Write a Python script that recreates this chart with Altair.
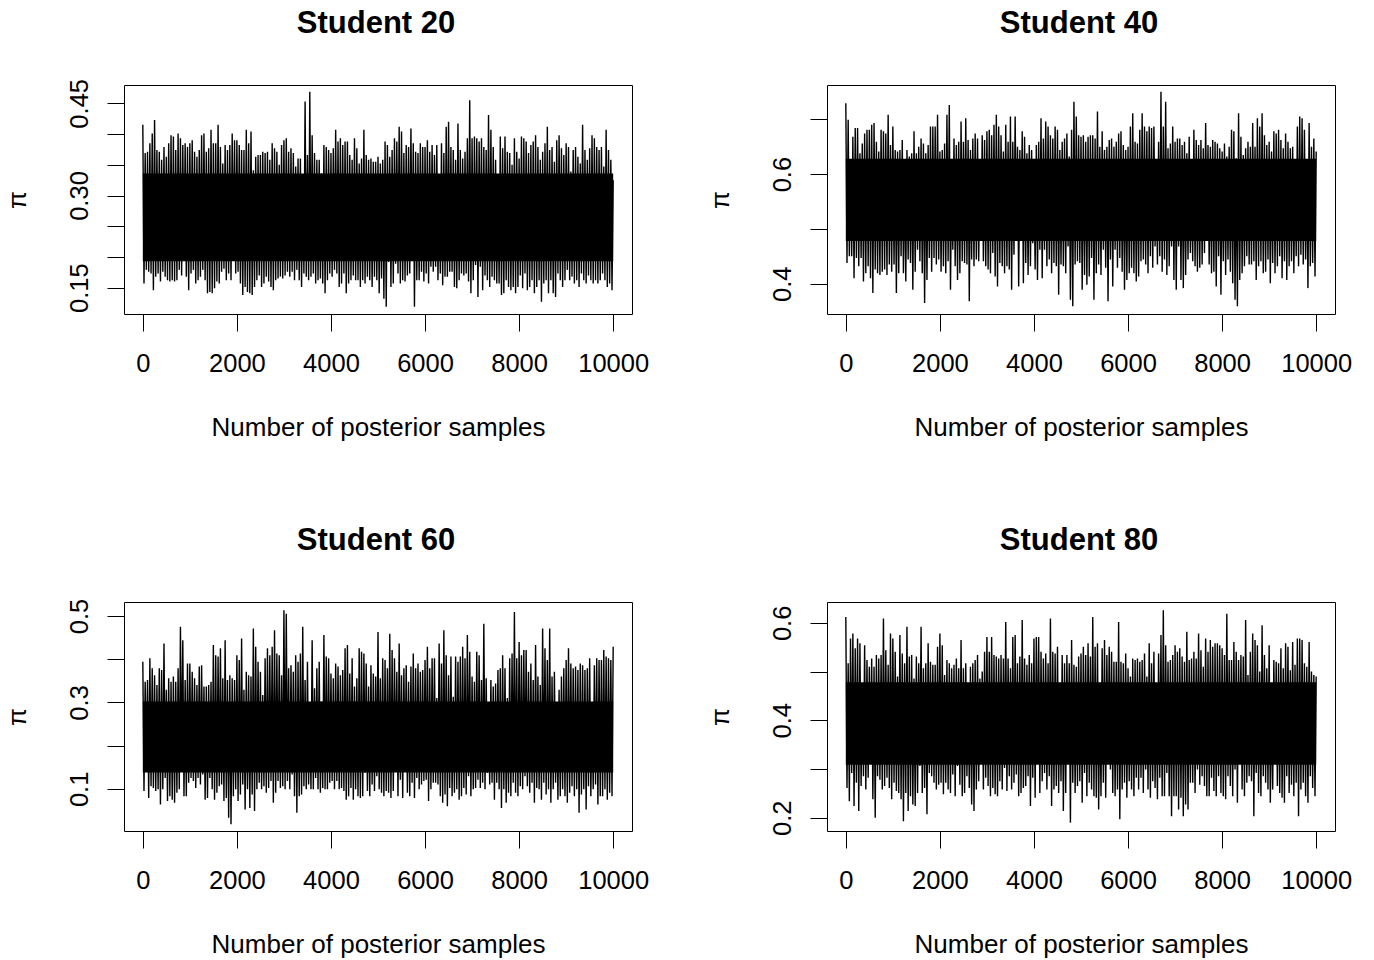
import altair as alt
import pandas as pd

# ---- data -------------------------------------------------------------
TITLES = ["Student 20", "Student 40", "Student 60", "Student 80"]

# Trace extremes for each block of 50 posterior draws:
# upper peaks at draws 0, 50, ..., 10000 and lower troughs at 25, 75, ..., 9975.
s20_hi = [0.415, 0.369, 0.371, 0.385, 0.401, 0.423, 0.374, 0.371, 0.358, 0.379,
          0.363, 0.385, 0.398, 0.396, 0.374, 0.401, 0.393, 0.382, 0.385, 0.379,
          0.385, 0.390, 0.371, 0.363, 0.374, 0.398, 0.401, 0.371, 0.377, 0.407,
          0.385, 0.385, 0.415, 0.379, 0.352, 0.382, 0.374, 0.382, 0.401, 0.390,
          0.390, 0.382, 0.374, 0.374, 0.407, 0.385, 0.404, 0.341, 0.363, 0.366,
          0.366, 0.371, 0.369, 0.371, 0.358, 0.385, 0.377, 0.371, 0.350, 0.382,
          0.390, 0.393, 0.371, 0.377, 0.369, 0.347, 0.360, 0.360, 0.333, 0.453,
          0.366, 0.469, 0.398, 0.369, 0.358, 0.358, 0.336, 0.382, 0.379, 0.374,
          0.369, 0.377, 0.407, 0.388, 0.393, 0.382, 0.388, 0.388, 0.366, 0.358,
          0.393, 0.377, 0.352, 0.360, 0.407, 0.366, 0.358, 0.360, 0.355, 0.355,
          0.363, 0.352, 0.358, 0.388, 0.382, 0.363, 0.374, 0.393, 0.388, 0.412,
          0.404, 0.369, 0.382, 0.379, 0.409, 0.385, 0.371, 0.369, 0.385, 0.379,
          0.379, 0.390, 0.371, 0.382, 0.366, 0.382, 0.309, 0.385, 0.369, 0.412,
          0.420, 0.379, 0.374, 0.358, 0.417, 0.374, 0.360, 0.371, 0.393, 0.455,
          0.393, 0.396, 0.393, 0.388, 0.393, 0.379, 0.374, 0.431, 0.407, 0.379,
          0.358, 0.320, 0.396, 0.377, 0.396, 0.371, 0.369, 0.350, 0.393, 0.371,
          0.360, 0.396, 0.393, 0.388, 0.369, 0.382, 0.388, 0.398, 0.379, 0.358,
          0.371, 0.385, 0.412, 0.374, 0.379, 0.355, 0.390, 0.398, 0.377, 0.366,
          0.385, 0.379, 0.339, 0.374, 0.379, 0.363, 0.352, 0.415, 0.374, 0.358,
          0.377, 0.398, 0.393, 0.379, 0.374, 0.379, 0.347, 0.407, 0.374, 0.358,
          0.325]
s20_lo = [0.157, 0.179, 0.176, 0.173, 0.146, 0.168, 0.173, 0.160, 0.176, 0.168,
          0.162, 0.160, 0.162, 0.160, 0.162, 0.179, 0.170, 0.195, 0.168, 0.146,
          0.173, 0.179, 0.157, 0.162, 0.168, 0.179, 0.162, 0.141, 0.143, 0.141,
          0.149, 0.160, 0.157, 0.176, 0.181, 0.162, 0.173, 0.162, 0.195, 0.173,
          0.176, 0.157, 0.138, 0.151, 0.143, 0.141, 0.138, 0.151, 0.162, 0.170,
          0.151, 0.157, 0.168, 0.160, 0.151, 0.146, 0.162, 0.165, 0.168, 0.165,
          0.170, 0.176, 0.168, 0.176, 0.162, 0.179, 0.162, 0.151, 0.173, 0.168,
          0.162, 0.168, 0.173, 0.157, 0.162, 0.165, 0.157, 0.141, 0.162, 0.173,
          0.168, 0.179, 0.173, 0.151, 0.157, 0.173, 0.141, 0.157, 0.162, 0.170,
          0.162, 0.162, 0.151, 0.162, 0.157, 0.168, 0.162, 0.151, 0.168, 0.162,
          0.141, 0.165, 0.132, 0.119, 0.192, 0.151, 0.157, 0.189, 0.173, 0.157,
          0.162, 0.160, 0.170, 0.173, 0.195, 0.119, 0.162, 0.162, 0.176, 0.160,
          0.173, 0.157, 0.184, 0.176, 0.184, 0.162, 0.173, 0.154, 0.168, 0.168,
          0.176, 0.176, 0.151, 0.149, 0.162, 0.173, 0.170, 0.173, 0.160, 0.141,
          0.162, 0.187, 0.135, 0.184, 0.146, 0.170, 0.162, 0.151, 0.168, 0.162,
          0.157, 0.157, 0.138, 0.141, 0.162, 0.151, 0.146, 0.151, 0.141, 0.151,
          0.170, 0.149, 0.173, 0.146, 0.151, 0.162, 0.141, 0.151, 0.162, 0.127,
          0.157, 0.162, 0.141, 0.162, 0.141, 0.135, 0.173, 0.162, 0.151, 0.162,
          0.179, 0.162, 0.168, 0.157, 0.162, 0.151, 0.173, 0.162, 0.157, 0.170,
          0.162, 0.157, 0.162, 0.157, 0.162, 0.173, 0.162, 0.151, 0.157, 0.146]

s40_hi = [0.729, 0.699, 0.623, 0.668, 0.684, 0.684, 0.638, 0.656, 0.674, 0.681,
          0.681, 0.690, 0.693, 0.659, 0.641, 0.681, 0.678, 0.674, 0.708, 0.653,
          0.687, 0.644, 0.641, 0.644, 0.662, 0.614, 0.644, 0.632, 0.638, 0.678,
          0.638, 0.650, 0.665, 0.656, 0.638, 0.653, 0.687, 0.687, 0.687, 0.708,
          0.641, 0.644, 0.656, 0.708, 0.726, 0.592, 0.665, 0.653, 0.659, 0.696,
          0.659, 0.702, 0.662, 0.644, 0.665, 0.674, 0.665, 0.605, 0.671, 0.662,
          0.678, 0.681, 0.671, 0.690, 0.708, 0.687, 0.671, 0.641, 0.690, 0.659,
          0.705, 0.659, 0.705, 0.650, 0.644, 0.678, 0.668, 0.638, 0.653, 0.644,
          0.623, 0.653, 0.659, 0.702, 0.665, 0.696, 0.687, 0.671, 0.665, 0.687,
          0.681, 0.644, 0.659, 0.665, 0.674, 0.632, 0.681, 0.732, 0.705, 0.671,
          0.668, 0.671, 0.659, 0.668, 0.671, 0.671, 0.665, 0.714, 0.650, 0.678,
          0.644, 0.650, 0.662, 0.665, 0.650, 0.659, 0.674, 0.678, 0.653, 0.644,
          0.650, 0.687, 0.711, 0.659, 0.656, 0.681, 0.711, 0.687, 0.678, 0.687,
          0.684, 0.687, 0.620, 0.659, 0.750, 0.687, 0.732, 0.647, 0.656, 0.687,
          0.659, 0.665, 0.665, 0.653, 0.659, 0.638, 0.668, 0.599, 0.681, 0.662,
          0.653, 0.662, 0.647, 0.693, 0.653, 0.650, 0.662, 0.659, 0.656, 0.647,
          0.641, 0.656, 0.632, 0.650, 0.681, 0.678, 0.629, 0.711, 0.668, 0.635,
          0.647, 0.659, 0.650, 0.693, 0.650, 0.702, 0.687, 0.711, 0.671, 0.653,
          0.659, 0.641, 0.678, 0.674, 0.681, 0.662, 0.647, 0.674, 0.659, 0.647,
          0.650, 0.608, 0.687, 0.705, 0.702, 0.681, 0.611, 0.693, 0.650, 0.665,
          0.641]
s40_lo = [0.438, 0.450, 0.450, 0.410, 0.447, 0.432, 0.447, 0.404, 0.419, 0.432,
          0.410, 0.383, 0.426, 0.419, 0.416, 0.422, 0.426, 0.416, 0.435, 0.422,
          0.435, 0.383, 0.419, 0.450, 0.419, 0.404, 0.444, 0.438, 0.389, 0.422,
          0.462, 0.441, 0.419, 0.365, 0.407, 0.447, 0.422, 0.447, 0.435, 0.444,
          0.422, 0.432, 0.419, 0.441, 0.389, 0.462, 0.432, 0.407, 0.419, 0.441,
          0.438, 0.435, 0.368, 0.444, 0.432, 0.444, 0.441, 0.483, 0.441, 0.432,
          0.426, 0.419, 0.456, 0.413, 0.395, 0.438, 0.432, 0.419, 0.432, 0.426,
          0.389, 0.453, 0.486, 0.395, 0.483, 0.401, 0.438, 0.416, 0.432, 0.474,
          0.426, 0.407, 0.462, 0.410, 0.462, 0.432, 0.444, 0.419, 0.438, 0.432,
          0.380, 0.435, 0.432, 0.419, 0.468, 0.371, 0.359, 0.435, 0.441, 0.438,
          0.389, 0.416, 0.398, 0.413, 0.447, 0.371, 0.419, 0.435, 0.416, 0.462,
          0.429, 0.368, 0.444, 0.395, 0.462, 0.429, 0.447, 0.422, 0.389, 0.407,
          0.419, 0.429, 0.419, 0.404, 0.413, 0.441, 0.444, 0.435, 0.419, 0.450,
          0.429, 0.468, 0.435, 0.450, 0.422, 0.444, 0.416, 0.432, 0.468, 0.407,
          0.389, 0.468, 0.407, 0.392, 0.416, 0.444, 0.456, 0.441, 0.432, 0.422,
          0.429, 0.435, 0.456, 0.486, 0.435, 0.419, 0.422, 0.395, 0.450, 0.380,
          0.441, 0.416, 0.444, 0.422, 0.401, 0.371, 0.359, 0.407, 0.419, 0.432,
          0.450, 0.435, 0.435, 0.441, 0.407, 0.432, 0.441, 0.419, 0.422, 0.444,
          0.401, 0.438, 0.419, 0.432, 0.450, 0.410, 0.441, 0.407, 0.432, 0.441,
          0.419, 0.450, 0.432, 0.453, 0.435, 0.444, 0.392, 0.432, 0.438, 0.413]

s60_hi = [0.394, 0.348, 0.352, 0.402, 0.379, 0.363, 0.340, 0.379, 0.375, 0.436,
          0.329, 0.356, 0.348, 0.360, 0.348, 0.379, 0.475, 0.444, 0.352, 0.390,
          0.390, 0.371, 0.356, 0.340, 0.383, 0.386, 0.337, 0.337, 0.340, 0.348,
          0.433, 0.409, 0.406, 0.425, 0.356, 0.444, 0.352, 0.363, 0.356, 0.352,
          0.409, 0.398, 0.448, 0.329, 0.371, 0.363, 0.360, 0.471, 0.429, 0.394,
          0.371, 0.317, 0.402, 0.425, 0.409, 0.429, 0.467, 0.413, 0.409, 0.363,
          0.513, 0.505, 0.379, 0.386, 0.371, 0.409, 0.394, 0.413, 0.475, 0.352,
          0.394, 0.298, 0.444, 0.333, 0.379, 0.394, 0.302, 0.456, 0.406, 0.402,
          0.367, 0.356, 0.390, 0.383, 0.363, 0.375, 0.425, 0.433, 0.367, 0.402,
          0.337, 0.356, 0.425, 0.417, 0.413, 0.390, 0.337, 0.386, 0.367, 0.360,
          0.463, 0.356, 0.402, 0.398, 0.379, 0.459, 0.421, 0.402, 0.371, 0.436,
          0.363, 0.379, 0.386, 0.348, 0.383, 0.413, 0.379, 0.390, 0.371, 0.375,
          0.398, 0.429, 0.379, 0.402, 0.402, 0.310, 0.436, 0.390, 0.467, 0.409,
          0.363, 0.406, 0.313, 0.406, 0.394, 0.406, 0.429, 0.402, 0.456, 0.417,
          0.360, 0.348, 0.417, 0.409, 0.352, 0.482, 0.356, 0.283, 0.352, 0.337,
          0.344, 0.375, 0.379, 0.409, 0.379, 0.310, 0.402, 0.413, 0.509, 0.402,
          0.440, 0.409, 0.421, 0.421, 0.371, 0.390, 0.352, 0.433, 0.360, 0.340,
          0.471, 0.425, 0.398, 0.471, 0.360, 0.371, 0.290, 0.329, 0.360, 0.379,
          0.398, 0.425, 0.390, 0.379, 0.383, 0.375, 0.390, 0.386, 0.375, 0.379,
          0.402, 0.298, 0.386, 0.402, 0.398, 0.398, 0.421, 0.406, 0.402, 0.398,
          0.429]
s60_lo = [0.095, 0.156, 0.079, 0.106, 0.102, 0.095, 0.099, 0.064, 0.099, 0.125,
          0.072, 0.083, 0.075, 0.068, 0.091, 0.099, 0.152, 0.083, 0.083, 0.114,
          0.125, 0.118, 0.102, 0.125, 0.110, 0.133, 0.075, 0.079, 0.125, 0.099,
          0.075, 0.091, 0.106, 0.110, 0.072, 0.079, 0.033, 0.018, 0.083, 0.099,
          0.072, 0.087, 0.110, 0.052, 0.099, 0.056, 0.087, 0.049, 0.099, 0.114,
          0.099, 0.106, 0.091, 0.102, 0.118, 0.068, 0.091, 0.118, 0.102, 0.106,
          0.099, 0.118, 0.099, 0.133, 0.083, 0.045, 0.083, 0.087, 0.106, 0.099,
          0.110, 0.099, 0.099, 0.125, 0.099, 0.091, 0.102, 0.099, 0.099, 0.114,
          0.118, 0.099, 0.118, 0.099, 0.102, 0.095, 0.075, 0.083, 0.102, 0.075,
          0.099, 0.083, 0.079, 0.083, 0.137, 0.095, 0.083, 0.110, 0.095, 0.129,
          0.099, 0.091, 0.083, 0.095, 0.091, 0.079, 0.095, 0.148, 0.083, 0.121,
          0.079, 0.148, 0.091, 0.083, 0.114, 0.079, 0.125, 0.099, 0.110, 0.118,
          0.121, 0.072, 0.099, 0.114, 0.114, 0.110, 0.083, 0.068, 0.087, 0.060,
          0.102, 0.083, 0.091, 0.099, 0.075, 0.083, 0.102, 0.087, 0.129, 0.083,
          0.099, 0.102, 0.121, 0.102, 0.114, 0.099, 0.137, 0.110, 0.114, 0.075,
          0.114, 0.099, 0.056, 0.099, 0.068, 0.091, 0.083, 0.114, 0.091, 0.083,
          0.106, 0.099, 0.129, 0.106, 0.091, 0.114, 0.068, 0.102, 0.099, 0.075,
          0.114, 0.087, 0.099, 0.068, 0.099, 0.114, 0.075, 0.083, 0.099, 0.083,
          0.068, 0.091, 0.106, 0.083, 0.099, 0.045, 0.087, 0.099, 0.052, 0.106,
          0.083, 0.099, 0.110, 0.064, 0.083, 0.083, 0.099, 0.075, 0.091, 0.083]

s80_hi = [0.612, 0.517, 0.568, 0.578, 0.548, 0.568, 0.558, 0.473, 0.554, 0.524,
          0.510, 0.527, 0.510, 0.534, 0.527, 0.534, 0.609, 0.544, 0.514, 0.578,
          0.568, 0.541, 0.490, 0.575, 0.537, 0.517, 0.592, 0.531, 0.534, 0.486,
          0.531, 0.517, 0.592, 0.507, 0.517, 0.558, 0.520, 0.514, 0.514, 0.551,
          0.578, 0.554, 0.493, 0.524, 0.517, 0.507, 0.514, 0.527, 0.507, 0.565,
          0.507, 0.517, 0.476, 0.510, 0.517, 0.524, 0.534, 0.486, 0.500, 0.541,
          0.571, 0.541, 0.571, 0.534, 0.531, 0.527, 0.534, 0.527, 0.602, 0.527,
          0.507, 0.571, 0.575, 0.517, 0.531, 0.606, 0.527, 0.514, 0.534, 0.517,
          0.568, 0.571, 0.571, 0.541, 0.527, 0.537, 0.517, 0.609, 0.541, 0.537,
          0.551, 0.473, 0.534, 0.517, 0.534, 0.517, 0.565, 0.514, 0.510, 0.531,
          0.537, 0.551, 0.534, 0.558, 0.531, 0.612, 0.551, 0.558, 0.462, 0.548,
          0.565, 0.534, 0.551, 0.541, 0.520, 0.520, 0.602, 0.520, 0.517, 0.537,
          0.507, 0.490, 0.527, 0.524, 0.527, 0.520, 0.524, 0.537, 0.490, 0.558,
          0.517, 0.541, 0.473, 0.537, 0.575, 0.626, 0.554, 0.520, 0.524, 0.534,
          0.554, 0.541, 0.548, 0.531, 0.520, 0.582, 0.524, 0.527, 0.541, 0.527,
          0.578, 0.544, 0.510, 0.568, 0.541, 0.565, 0.551, 0.558, 0.558, 0.554,
          0.548, 0.534, 0.619, 0.524, 0.524, 0.561, 0.541, 0.524, 0.534, 0.531,
          0.606, 0.493, 0.541, 0.578, 0.565, 0.554, 0.500, 0.595, 0.534, 0.507,
          0.554, 0.456, 0.524, 0.520, 0.517, 0.548, 0.507, 0.558, 0.551, 0.503,
          0.561, 0.514, 0.568, 0.568, 0.565, 0.517, 0.510, 0.561, 0.500, 0.493,
          0.490]
s80_lo = [0.261, 0.234, 0.292, 0.224, 0.272, 0.214, 0.265, 0.285, 0.258, 0.282,
          0.313, 0.238, 0.200, 0.285, 0.278, 0.258, 0.265, 0.282, 0.261, 0.238,
          0.272, 0.255, 0.251, 0.238, 0.193, 0.251, 0.214, 0.244, 0.227, 0.224,
          0.251, 0.306, 0.251, 0.261, 0.207, 0.292, 0.285, 0.272, 0.258, 0.268,
          0.272, 0.248, 0.272, 0.258, 0.251, 0.289, 0.244, 0.306, 0.268, 0.244,
          0.251, 0.285, 0.261, 0.227, 0.214, 0.258, 0.275, 0.319, 0.258, 0.282,
          0.265, 0.244, 0.261, 0.248, 0.244, 0.275, 0.258, 0.302, 0.255, 0.285,
          0.258, 0.272, 0.289, 0.244, 0.251, 0.261, 0.265, 0.285, 0.224, 0.282,
          0.241, 0.313, 0.251, 0.275, 0.292, 0.258, 0.285, 0.224, 0.258, 0.265,
          0.251, 0.275, 0.214, 0.251, 0.313, 0.190, 0.272, 0.251, 0.265, 0.275,
          0.231, 0.292, 0.244, 0.272, 0.258, 0.244, 0.241, 0.217, 0.244, 0.272,
          0.241, 0.316, 0.299, 0.251, 0.244, 0.258, 0.197, 0.258, 0.272, 0.241,
          0.275, 0.258, 0.244, 0.282, 0.258, 0.282, 0.251, 0.299, 0.258, 0.241,
          0.275, 0.261, 0.238, 0.282, 0.244, 0.244, 0.292, 0.244, 0.203, 0.244,
          0.244, 0.217, 0.241, 0.203, 0.227, 0.217, 0.272, 0.272, 0.251, 0.299,
          0.268, 0.285, 0.265, 0.244, 0.244, 0.282, 0.255, 0.244, 0.285, 0.251,
          0.244, 0.238, 0.285, 0.265, 0.244, 0.299, 0.231, 0.319, 0.258, 0.244,
          0.272, 0.285, 0.275, 0.203, 0.292, 0.251, 0.244, 0.285, 0.272, 0.258,
          0.231, 0.258, 0.313, 0.265, 0.251, 0.241, 0.231, 0.285, 0.251, 0.268,
          0.244, 0.272, 0.203, 0.258, 0.272, 0.244, 0.231, 0.285, 0.261, 0.244]

# Dense central band of each chain (upper, lower)
BANDS = [(0.336, 0.193), (0.628, 0.478), (0.302, 0.138), (0.478, 0.309)]

# y-axis ranges, tick positions and the ticks that carry a label
Y_DOMAINS = [(0.1072, 0.4798), (0.3448, 0.7625), (0.0025, 0.5323), (0.1728, 0.6429)]
Y_TICKS = [[0.15, 0.20, 0.25, 0.30, 0.35, 0.40, 0.45],
           [0.4, 0.5, 0.6, 0.7],
           [0.1, 0.2, 0.3, 0.4, 0.5],
           [0.2, 0.3, 0.4, 0.5, 0.6]]
Y_LABELS = [["0.15", "0.30", "0.45"], ["0.4", "0.6"], ["0.1", "0.3", "0.5"], ["0.2", "0.4", "0.6"]]
Y_FORMATS = [".2f", ".1f", ".1f", ".1f"]

X_TICKS = [0, 2000, 4000, 6000, 8000, 10000]
X_DOMAIN = [-400, 10400]
N_DRAWS = 10000
BLOCK = 50

TRACES = [(s20_hi, s20_lo), (s40_hi, s40_lo), (s60_hi, s60_lo), (s80_hi, s80_lo)]

# ---- layout -----------------------------------------------------------
W, H = 508, 229
FONT = "Liberation Sans"
FS = 26


def trace_frame(hi, lo):
    rows = []
    for i, v in enumerate(hi):
        rows.append({"sample": i * BLOCK, "pi": v})
        if i < len(lo):
            rows.append({"sample": i * BLOCK + BLOCK / 2, "pi": lo[i]})
    return pd.DataFrame(rows)


def panel(k):
    hi, lo = TRACES[k]
    top, bot = BANDS[k]
    fmt = Y_FORMATS[k]
    shown = ",".join("'%s'" % s for s in Y_LABELS[k])
    label_expr = "indexof([%s], format(datum.value, '%s')) >= 0 ? format(datum.value, '%s') : ''" % (
        shown, fmt, fmt)

    x_enc = alt.X(
        "sample:Q",
        scale=alt.Scale(domain=X_DOMAIN, nice=False, zero=False),
        axis=alt.Axis(values=X_TICKS, title="Number of posterior samples", format="d",
                      tickSize=17, labelPadding=20, labelFlush=False, labelOverlap=False,
                      titleBaseline="alphabetic", titleY=121),
    )
    y_scale = alt.Scale(domain=list(Y_DOMAINS[k]), nice=False, zero=False)
    y_axis = alt.Axis(values=Y_TICKS[k], title="π", labelExpr=label_expr,
                      tickSize=17, labelPadding=20, labelAngle=270, labelAlign="center",
                      labelBaseline="alphabetic", labelFlush=False, labelOverlap=False,
                      titleAngle=270, titleX=-107, titleY=H / 2,
                      titleAlign="center", titleBaseline="middle")

    band_df = pd.DataFrame({"sample": [0, N_DRAWS], "top": [top, top], "bot": [bot, bot]})
    band = alt.Chart(band_df).mark_area(color="black", clip=True).encode(
        x=x_enc,
        y=alt.Y("top:Q", scale=y_scale, axis=y_axis),
        y2="bot:Q",
    )
    line = alt.Chart(trace_frame(hi, lo)).mark_line(
        color="black", strokeWidth=1.4, strokeJoin="miter", clip=True
    ).encode(
        x=x_enc,
        y=alt.Y("pi:Q", scale=y_scale, axis=y_axis),
        order="sample:Q",
    )
    title = alt.Chart(pd.DataFrame({"t": [TITLES[k]]})).mark_text(
        font=FONT, fontSize=31, fontWeight="bold", align="center",
        baseline="alphabetic", color="black"
    ).encode(text="t:N", x=alt.value(W / 2 - 2), y=alt.value(-52))

    return alt.layer(band, line, title).properties(width=W, height=H)


chart = (
    alt.concat(panel(0), panel(1), panel(2), panel(3), columns=2,
               spacing={"row": 288, "column": 195}, bounds="flush")
    .properties(padding={"left": 3, "top": 7, "right": 5, "bottom": 5}, background="white")
    .configure_view(stroke="black", strokeWidth=1)
    .configure_axis(grid=False, domain=False, tickColor="black", tickWidth=1,
                    labelColor="black", titleColor="black",
                    labelFont=FONT, titleFont=FONT, labelFontSize=25.5, titleFontSize=FS,
                    titleFontWeight="normal")
)

chart.save("out.html", embed_options={"renderer": "svg", "actions": False})
